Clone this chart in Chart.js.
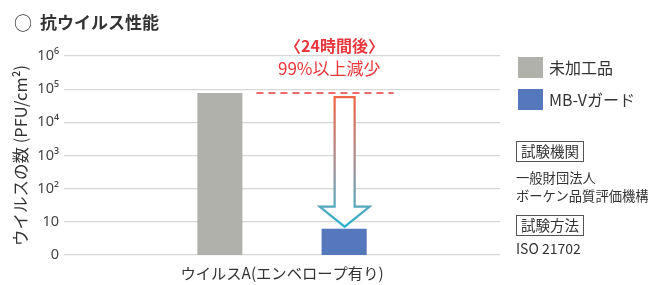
<!DOCTYPE html>
<html><head><meta charset="utf-8">
<script src="https://cdn.jsdelivr.net/npm/chart.js@4"></script>
<style>
html,body{margin:0;padding:0;background:#fff;}
#wrap{position:relative;width:648px;height:285px;font-family:"Noto Sans CJK JP","Noto Sans",sans-serif;color:#333;}
canvas{position:absolute;left:0;top:0;}
.t{position:absolute;white-space:nowrap;line-height:1;}
.box{position:absolute;border:1px solid #555;padding:2px 4px;font-size:14.5px;line-height:1;white-space:nowrap;}
.sw{position:absolute;width:25px;height:21px;}
</style></head><body>
<div id="wrap">
<canvas id="c" width="648" height="285"></canvas>
<div class="t" style="left:14px;top:13px;font-size:18px;">○</div>
<div class="t" style="left:40px;top:13px;font-size:17px;font-weight:bold;">抗ウイルス性能</div>
<div class="t" style="left:285px;top:37px;font-size:16px;font-weight:bold;color:#e8383d;">〈24時間後〉</div>
<div class="t" style="left:278px;top:59px;font-size:17px;color:#e8383d;">99%以上減少</div>
<div class="sw" style="left:518px;top:57px;background:#b1b1ab;"></div>
<div class="t" style="left:549px;top:59px;font-size:16px;">未加工品</div>
<div class="sw" style="left:518px;top:89px;background:#5577bb;"></div>
<div class="t" style="left:549px;top:91px;font-size:16px;">MB-Vガード</div>
<div class="box" style="left:516px;top:141px;">試験機関</div>
<div class="t" style="left:516px;top:169px;font-size:13.3px;line-height:18px;">一般財団法人<br>ボーケン品質評価機構</div>
<div class="box" style="left:516px;top:215px;">試験方法</div>
<div class="t" style="left:516px;top:241px;font-size:14px;">ISO 21702</div>
</div>
<script>
const categories = ["ウイルスA(エンベロープ有り)"];
const seriesNames = ["未加工品", "MB-Vガード"];
const untreated = [76000];
const mbv = [6.2];
const yTickValues = [1, 10, 100, 1000, 10000, 100000, 1000000];
const yTickLabels = ["0", "10", "10²", "10³", "10⁴", "10⁵", "10⁶"];

const annot = {
  id: 'annot',
  afterDatasetsDraw(chart) {
    const ctx = chart.ctx, y = chart.scales.y;
    const g = chart.getDatasetMeta(0).data[0];
    const b = chart.getDatasetMeta(1).data[0];
    const yTop = y.getPixelForValue(untreated[0]);
    const yBot = y.getPixelForValue(mbv[0]);
    ctx.save();
    ctx.strokeStyle = '#e8383d';
    ctx.lineWidth = 1.5;
    ctx.setLineDash([7, 5]);
    ctx.beginPath();
    ctx.moveTo(g.x + g.width / 2 + 14, yTop);
    ctx.lineTo(b.x + b.width / 2 + 27, yTop);
    ctx.stroke();
    ctx.setLineDash([]);
    const cx = b.x + 0.5;
    const top = yTop + 4, tip = yBot - 2, headTop = tip - 20;
    const grad = ctx.createLinearGradient(0, top, 0, tip);
    grad.addColorStop(0, '#ef6446');
    grad.addColorStop(0.5, '#a88a8e');
    grad.addColorStop(1, '#2fb4d2');
    ctx.strokeStyle = grad;
    ctx.fillStyle = '#fff';
    ctx.lineWidth = 2.2;
    ctx.lineJoin = 'miter';
    ctx.beginPath();
    ctx.moveTo(cx - 10, top);
    ctx.lineTo(cx + 10, top);
    ctx.lineTo(cx + 10, headTop);
    ctx.lineTo(cx + 25, headTop);
    ctx.lineTo(cx, tip);
    ctx.lineTo(cx - 25, headTop);
    ctx.lineTo(cx - 10, headTop);
    ctx.closePath();
    ctx.fill();
    ctx.stroke();
    ctx.restore();
  }
};

new Chart(document.getElementById('c'), {
  type: 'bar',
  data: {
    labels: categories,
    datasets: [
      { label: seriesNames[0], data: untreated, backgroundColor: '#b1b1ab', barPercentage: 0.363, categoryPercentage: 0.57 },
      { label: seriesNames[1], data: mbv, backgroundColor: '#5577bb', barPercentage: 0.363, categoryPercentage: 0.57 }
    ]
  },
  options: {
    responsive: false,
    animation: false,
    events: [],
    layout: { padding: { top: 56, right: 148, bottom: 0, left: 0 } },
    plugins: { legend: { display: false }, tooltip: { enabled: false } },
    scales: {
      x: {
        grid: { display: false, drawTicks: false },
        border: { display: false },
        ticks: { color: '#333', font: { family: '"Noto Sans CJK JP"', size: 15.3 }, padding: 9 },
        afterFit(s) { s.height = 30; }
      },
      y: {
        type: 'logarithmic',
        min: 1, max: 1000000,
        afterBuildTicks(s) { s.ticks = yTickValues.map(v => ({ value: v })); },
        grid: { color: '#d6d6d6', lineWidth: 1.3, drawTicks: false },
        border: { display: false },
        ticks: {
          color: '#444', padding: 5,
          font: { family: '"Noto Sans", "DejaVu Sans"', size: 14.5 },
          callback(v) { const i = yTickValues.indexOf(v); return i >= 0 ? yTickLabels[i] : ''; }
        },
        title: { display: true, text: 'ウイルスの数 (PFU/cm²)', color: '#333',
                 font: { family: '"Noto Sans CJK JP"', size: 16.5 }, padding: { top: 11, bottom: 0 } },
        afterFit(s) { s.width = 64; }
      }
    }
  },
  plugins: [annot]
});
</script>
</body></html>
